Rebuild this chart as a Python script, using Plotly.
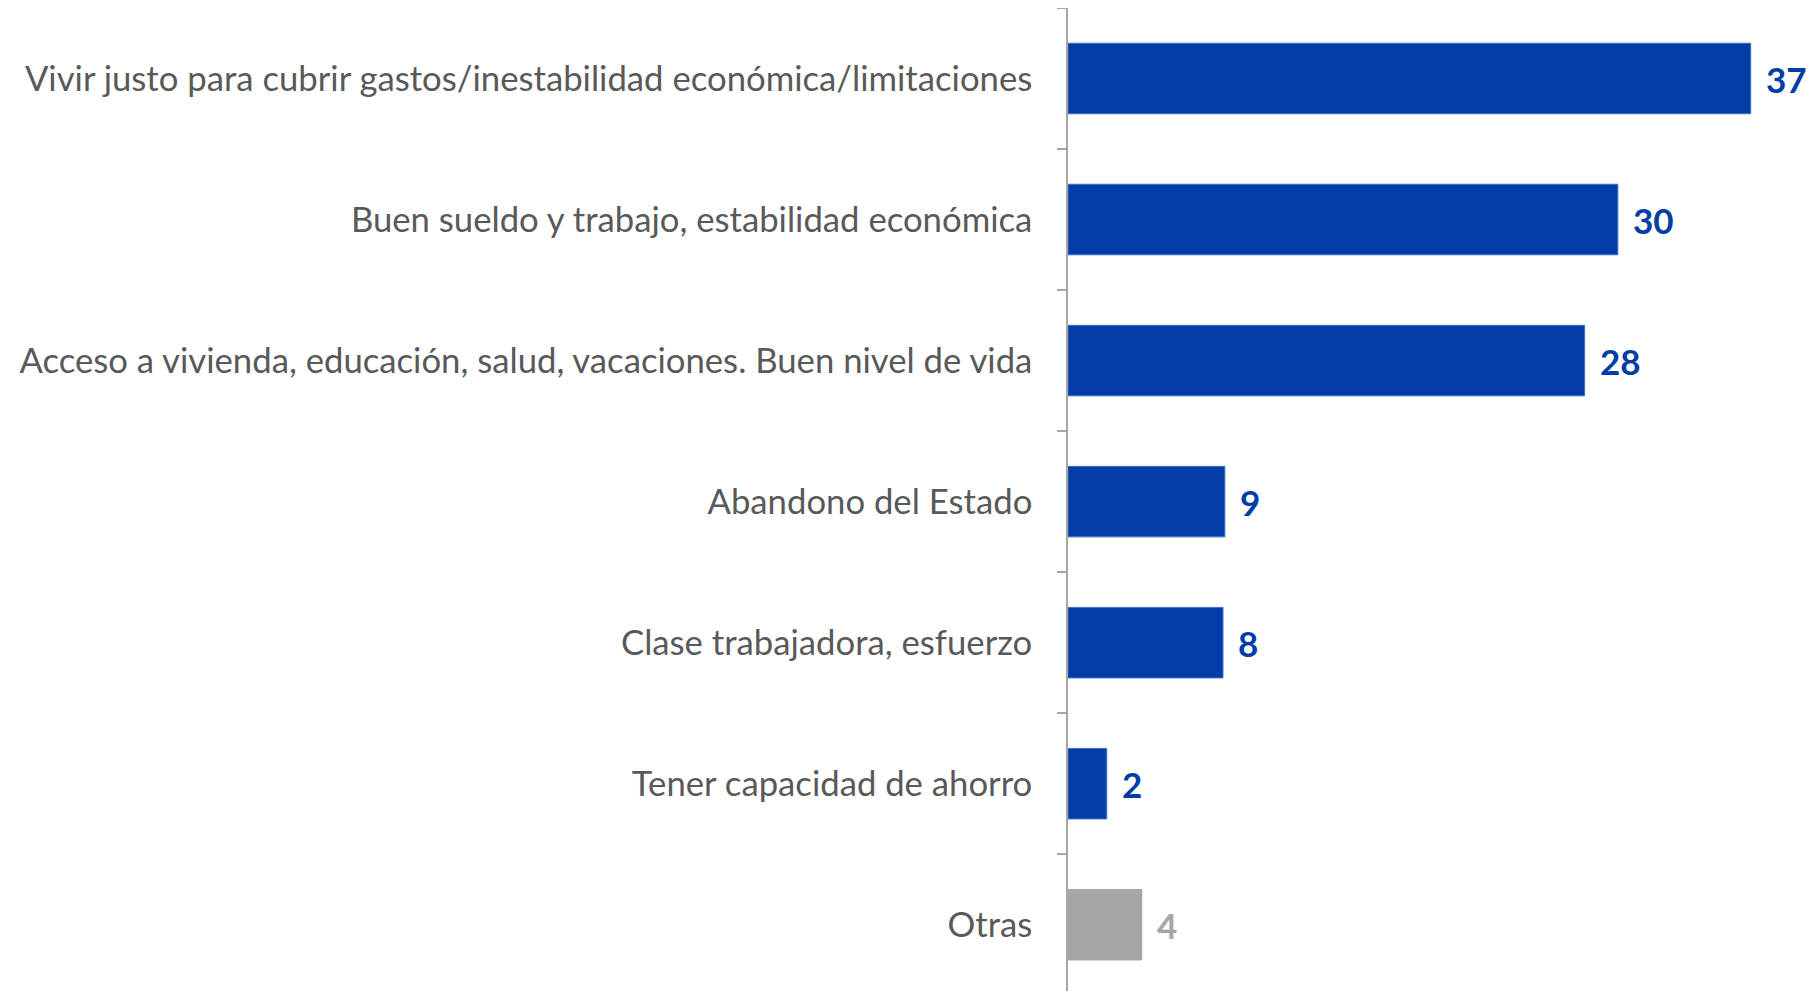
import plotly.graph_objects as go

categories = [
    "Vivir justo para cubrir gastos/inestabilidad económica/limitaciones",
    "Buen sueldo y trabajo, estabilidad económica",
    "Acceso a vivienda, educación, salud, vacaciones. Buen nivel de vida",
    "Abandono del Estado",
    "Clase trabajadora, esfuerzo",
    "Tener capacidad de ahorro",
    "Otras",
]
values = [37.0, 29.8, 28.0, 8.5, 8.4, 2.1, 4.0]
value_labels = ["37", "30", "28", "9", "8", "2", "4"]

BLUE = "#003DA6"
GREY = "#A6A6A6"
colors = [BLUE] * 6 + [GREY]
line_colors = ["#3F6FC8"] * 6 + [GREY]

fig = go.Figure()
fig.add_trace(go.Bar(
    y=categories,
    x=values,
    orientation="h",
    width=0.5,
    marker=dict(color=colors, line=dict(color=line_colors, width=1)),
    hoverinfo="skip",
))

for cat, v, lab, c in zip(categories, values, value_labels, colors):
    fig.add_annotation(
        x=v, y=cat, text=f"<b>{lab}</b>", showarrow=False,
        xanchor="left", yanchor="middle", xshift=13, yshift=0,
        font=dict(family="Lato, Open Sans, sans-serif", size=35, color=c),
    )

fig.update_layout(
    width=1808, height=983,
    margin=dict(l=1060, r=0, t=0, b=0),
    paper_bgcolor="white", plot_bgcolor="white",
    showlegend=False,
    bargap=0.5,
)
fig.update_xaxes(
    range=[0, 40.54], visible=False, showgrid=False, zeroline=False,
)
fig.update_yaxes(
    type="category",
    categoryorder="array", categoryarray=categories,
    range=[6.47, -0.5],
    showline=True, linecolor="#A6A6A6", linewidth=1.5,
    ticks="outside", tickson="boundaries", ticklen=9, tickcolor="#A6A6A6", tickwidth=1.5,
    ticklabelstandoff=27,
    showgrid=False, zeroline=False,
    tickfont=dict(family="Lato, Open Sans, sans-serif", size=34.7, color="#595959"),
)

fig.write_html("out.html")
